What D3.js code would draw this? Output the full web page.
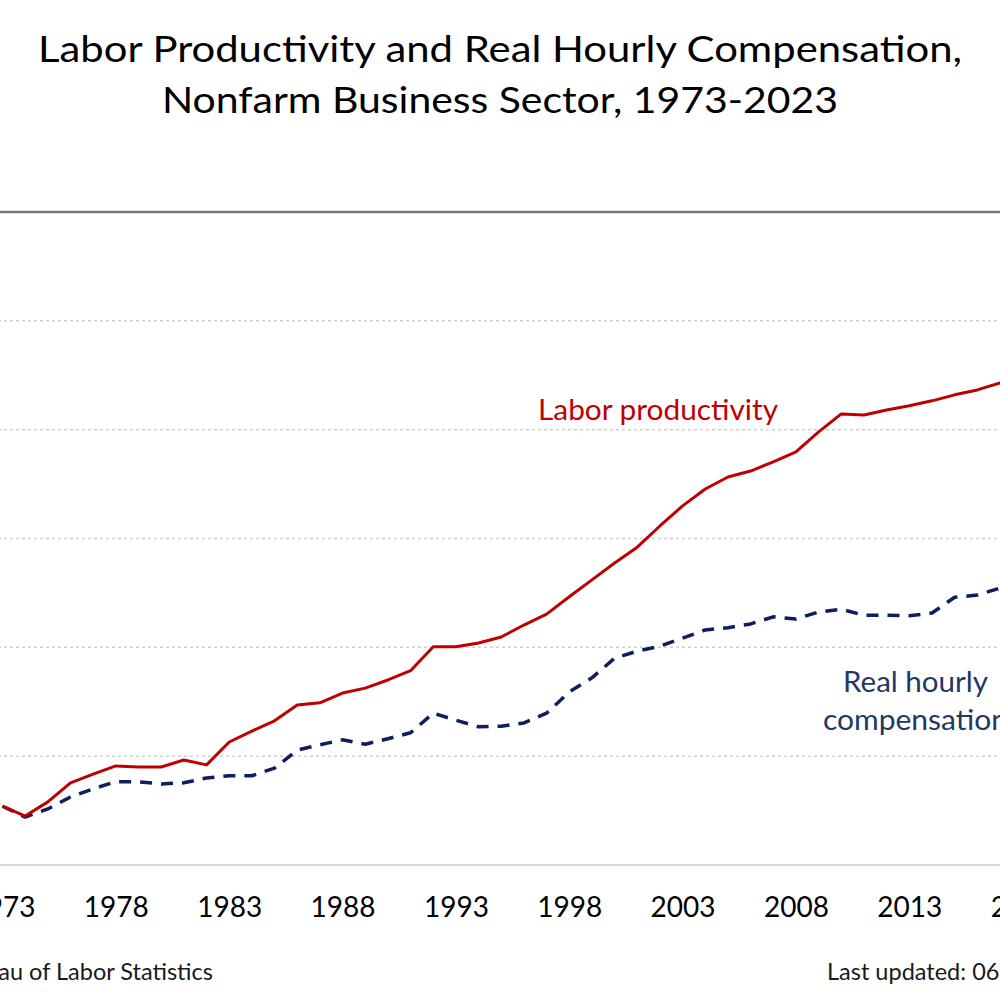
<!DOCTYPE html>
<html>
<head>
<meta charset="utf-8">
<script src="https://cdn.jsdelivr.net/npm/d3@7"></script>
<style>
  html, body { margin: 0; padding: 0; background: #fff; }
  svg { display: block; font-family: Lato, "Open Sans", "Liberation Sans", sans-serif; }
</style>
</head>
<body>
<svg id="chart" width="1000" height="1000"></svg>
<script>
// ---- Data (arbitrary index units) ----
const years = d3.range(1973, 2024);
const productivity = [
  10.8, 9.0, 11.6, 15.1, 16.7, 18.2, 18.0, 18.0, 19.3, 18.4,
  22.6, 24.6, 26.5, 29.4, 29.8, 31.6, 32.5, 34.0, 35.7, 40.1,
  40.1, 40.8, 41.9, 44.1, 46.1, 49.3, 52.4, 55.5, 58.4, 62.3,
  66.0, 69.1, 71.3, 72.4, 74.1, 75.9, 79.6, 82.9, 82.7, 83.6,
  84.4, 85.3, 86.4, 87.3, 88.6, 90.0, 91.9, 96.1, 96.8, 95.4,
  96.8
];
const compensation = [
  10.8, 8.8, 10.3, 12.5, 14.0, 15.3, 15.3, 14.9, 15.1, 16.0,
  16.4, 16.4, 17.8, 21.1, 22.1, 23.0, 22.2, 23.2, 24.3, 27.9,
  26.6, 25.4, 25.5, 26.1, 27.9, 31.8, 34.4, 38.0, 39.3, 40.2,
  41.7, 43.2, 43.6, 44.3, 45.6, 45.2, 46.5, 47.0, 45.9, 45.9,
  45.8, 46.3, 49.2, 49.6, 50.9, 51.5, 52.7, 56.8, 56.0, 53.3,
  53.8
];
const tickYears = [1973, 1978, 1983, 1988, 1993, 1998, 2003, 2008, 2013, 2018, 2023];
const gridValues = [20, 40, 60, 80, 100];
const titleLines = [
  "Labor Productivity and Real Hourly Compensation,",
  "Nonfarm Business Sector, 1973-2023"
];
const seriesLabels = {
  productivity: ["Labor productivity"],
  compensation: ["Real hourly", "compensation"]
};
const sourceText = "Source: U.S. Bureau of Labor Statistics";
const updatedText = "Last updated: 06/06/2024";

// ---- Layout ----
const svg = d3.select("#chart");
const x = d3.scaleLinear().domain([1973, 2023]).range([2.5, 1136]);
const y = d3.scaleLinear().domain([0, 120]).range([865, 212]);

// Title
svg.append("text")
  .attr("x", 500).attr("y", 62)
  .attr("text-anchor", "middle")
  .attr("font-size", 37).attr("fill", "#000")
  .attr("textLength", 924).attr("lengthAdjust", "spacingAndGlyphs")
  .text(titleLines[0]);
svg.append("text")
  .attr("x", 500).attr("y", 113)
  .attr("text-anchor", "middle")
  .attr("font-size", 37).attr("fill", "#000")
  .attr("textLength", 676).attr("lengthAdjust", "spacingAndGlyphs")
  .text(titleLines[1]);

// Top frame line
svg.append("line")
  .attr("x1", -200).attr("x2", 1200)
  .attr("y1", y(120)).attr("y2", y(120))
  .attr("stroke", "#777").attr("stroke-width", 2.5);

// Gridlines
svg.append("g").selectAll("line").data(gridValues).join("line")
  .attr("x1", -200).attr("x2", 1200)
  .attr("y1", d => y(d)).attr("y2", d => y(d))
  .attr("stroke", "#cfcfcf").attr("stroke-width", 1.5)
  .attr("stroke-dasharray", "3,3");

// Baseline
svg.append("line")
  .attr("x1", -200).attr("x2", 1200)
  .attr("y1", y(0)).attr("y2", y(0))
  .attr("stroke", "#d9d9d9").attr("stroke-width", 2);

// X axis labels
const xAxis = d3.axisBottom(x).tickValues(tickYears).tickFormat(d3.format("d")).tickSize(0).tickPadding(0);
const gx = svg.append("g").attr("transform", `translate(0,${y(0)})`).call(xAxis);
gx.select(".domain").remove();
gx.selectAll("text")
  .attr("dy", null)
  .attr("y", 52)
  .attr("font-size", 28)
  .attr("font-family", "Lato, 'Open Sans', sans-serif")
  .attr("fill", "#000");

// Lines
const line = d3.line().x((d, i) => x(years[i])).y(d => y(d));
svg.append("path").datum(compensation)
  .attr("d", line)
  .attr("fill", "none")
  .attr("stroke", "#0d1f5c")
  .attr("stroke-width", 3.5)
  .attr("stroke-dasharray", "12,9")
  .attr("stroke-linejoin", "round");
svg.append("path").datum(productivity)
  .attr("d", line)
  .attr("fill", "none")
  .attr("stroke", "#c00000")
  .attr("stroke-width", 3)
  .attr("stroke-linejoin", "round");

// Series labels
svg.append("text")
  .attr("x", 538).attr("y", 420)
  .attr("font-size", 28).attr("fill", "#c00000")
  .attr("textLength", 240).attr("lengthAdjust", "spacingAndGlyphs")
  .text(seriesLabels.productivity[0]);
svg.append("text")
  .attr("x", 915.5).attr("y", 692)
  .attr("text-anchor", "middle")
  .attr("font-size", 28).attr("fill", "#1f3864")
  .attr("textLength", 145).attr("lengthAdjust", "spacingAndGlyphs")
  .text(seriesLabels.compensation[0]);
svg.append("text")
  .attr("x", 915.5).attr("y", 730)
  .attr("text-anchor", "middle")
  .attr("font-size", 28).attr("fill", "#1f3864")
  .attr("textLength", 185).attr("lengthAdjust", "spacingAndGlyphs")
  .text(seriesLabels.compensation[1]);

// Footer
svg.append("text")
  .attr("x", 213).attr("y", 980)
  .attr("text-anchor", "end")
  .attr("font-size", 23.5).attr("fill", "#1a1a1a")
  .text(sourceText);
svg.append("text")
  .attr("x", 827).attr("y", 980)
  .attr("font-size", 23.5).attr("fill", "#1a1a1a")
  .text(updatedText);
</script>
</body>
</html>
